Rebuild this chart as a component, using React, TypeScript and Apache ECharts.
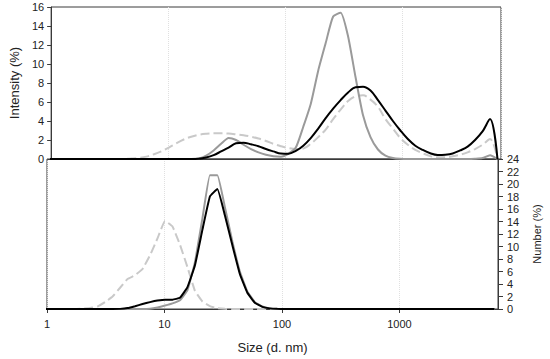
import React, { useEffect, useRef } from "react";
import * as echarts from "echarts";

// Size classes (d. nm)
const sizes = [0.9649, 1.117, 1.294, 1.499, 1.736, 2.01, 2.328, 2.696, 3.122, 3.615, 4.187, 4.849, 5.615, 6.503, 7.531, 8.721, 10.1, 11.7, 13.54, 15.69, 18.17, 21.04, 24.36, 28.21, 32.67, 37.84, 43.82, 50.75, 58.77, 68.06, 78.82, 91.28, 105.7, 122.4, 141.8, 164.2, 190.1, 220.2, 255.0, 295.3, 342.0, 396.1, 458.7, 531.2, 615.1, 712.4, 825.0, 955.4, 1106, 1281, 1484, 1718, 1990, 2305, 2669, 3091, 3580, 4145, 4801, 5560, 6439];

// Intensity (%)
const intensityBlack = [0, 0, 0, 0, 0, 0, 0, 0, 0, 0, 0, 0, 0, 0, 0, 0, 0, 0, 0, 0, 0.02, 0.15, 0.4, 0.8, 1.2, 1.65, 1.72, 1.55, 1.35, 1.05, 0.8, 0.57, 0.55, 0.85, 1.4, 2.2, 3.2, 4.3, 5.3, 6.2, 7.0, 7.55, 7.6, 7.2, 6.2, 5.1, 4.0, 3.0, 2.1, 1.4, 0.95, 0.6, 0.42, 0.45, 0.58, 0.9, 1.3, 2.0, 2.9, 4.2, 0];
const intensityGray = [0, 0, 0, 0, 0, 0, 0, 0, 0, 0, 0, 0, 0, 0, 0, 0, 0, 0, 0, 0, 0.05, 0.35, 0.9, 1.6, 2.2, 2.0, 1.5, 1.05, 0.7, 0.45, 0.3, 0.25, 0.55, 1.2, 3.4, 5.8, 9.3, 12.2, 15.0, 15.4, 12.9, 8.6, 4.6, 2.3, 1.0, 0.35, 0.1, 0.02, 0, 0, 0, 0, 0, 0, 0, 0, 0, 0.03, 0.1, 0.4, 0];
const intensityDashed = [0, 0, 0, 0, 0, 0, 0, 0, 0, 0, 0, 0.05, 0.12, 0.25, 0.5, 0.8, 1.2, 1.65, 2.05, 2.35, 2.55, 2.65, 2.7, 2.7, 2.68, 2.6, 2.5, 2.35, 2.15, 1.9, 1.6, 1.35, 1.15, 1.05, 1.1, 1.6, 2.3, 3.1, 4.2, 5.2, 6.1, 6.6, 6.7, 6.25, 5.5, 4.2, 3.2, 2.2, 1.5, 0.95, 0.6, 0.3, 0.18, 0.18, 0.28, 0.45, 0.7, 1.05, 1.5, 2.1, 0];

// Number (%)
const numberBlack = [0, 0, 0, 0, 0, 0, 0, 0, 0, 0, 0.02, 0.15, 0.45, 0.8, 1.1, 1.35, 1.5, 1.5, 1.8, 3.5, 7.0, 12.7, 18.0, 19.2, 15.0, 10.2, 5.6, 2.6, 1.0, 0.35, 0.1, 0.03, 0, 0, 0, 0, 0, 0, 0, 0, 0, 0, 0, 0, 0, 0, 0, 0, 0, 0, 0, 0, 0, 0, 0, 0, 0, 0, 0, 0, 0];
const numberGray = [0, 0, 0, 0, 0, 0, 0, 0, 0, 0, 0, 0, 0, 0, 0.05, 0.25, 0.55, 0.9, 1.4, 3.0, 7.5, 14.5, 21.4, 21.4, 16.3, 10.8, 6.0, 2.8, 1.1, 0.4, 0.1, 0, 0, 0, 0, 0, 0, 0, 0, 0, 0, 0, 0, 0, 0, 0, 0, 0, 0, 0, 0, 0, 0, 0, 0, 0, 0, 0, 0, 0, 0];
const numberDashed = [0, 0, 0, 0, 0, 0.05, 0.15, 0.4, 1.1, 2.0, 3.4, 4.8, 5.4, 6.4, 8.6, 11.3, 14.1, 13.2, 10.3, 6.7, 2.9, 1.2, 0.45, 0.12, 0.03, 0, 0, 0, 0, 0, 0, 0, 0, 0, 0, 0, 0, 0, 0, 0, 0, 0, 0, 0, 0, 0, 0, 0, 0, 0, 0, 0, 0, 0, 0, 0, 0, 0, 0, 0, 0];

const xTickLabels = ["1", "10", "100", "1000"];

const FONT = "'Liberation Sans', Arial, sans-serif";
const AXIS_COLOR = "#3a3a3a";

function pairs(vals: number[]) {
  return sizes.map((s, i) => [s, vals[i]]);
}

export default function App() {
  const ref = useRef<HTMLDivElement>(null);
  useEffect(() => {
    if (!ref.current) return;
    const chart = echarts.init(ref.current, null, { renderer: "svg" });
    const xBase = {
      type: "log" as const,
      logBase: 10,
      min: 1,
      max: 6900,
      axisLine: { show: true, onZero: false, lineStyle: { color: AXIS_COLOR, width: 1 } },
      splitLine: { show: true, lineStyle: { color: "#e0e0e0", type: "dotted" as const, width: 1 } },
    };
    const lineCommon = { type: "line" as const, showSymbol: false, symbol: "none", clip: true };
    const blackStyle = { color: "#000", width: 2 };
    const grayStyle = { color: "#9a9a9a", width: 2 };
    const dashStyle = { color: "#c9c9c9", width: 2, type: [9, 4] as any };
    chart.setOption({
      animation: false,
      textStyle: { fontFamily: FONT },
      grid: [
        { left: 47, right: 49, top: 7, height: 152, show: true, borderColor: AXIS_COLOR, borderWidth: 1, backgroundColor: "transparent" },
        { left: 47, right: 49, top: 159, height: 150, show: true, borderColor: AXIS_COLOR, borderWidth: 1, backgroundColor: "transparent" },
      ],
      xAxis: [
        { ...xBase, gridIndex: 0, axisTick: { show: false }, axisLabel: { show: false } },
        {
          ...xBase,
          gridIndex: 1,
          axisTick: { show: true, length: 4, lineStyle: { color: AXIS_COLOR } },
          axisLabel: {
            show: true,
            color: "#222",
            fontSize: 11,
            fontFamily: FONT,
            margin: 9,
            showMaxLabel: false,
            formatter: (v: number) => {
              const l = Math.round(Math.log10(v));
              const lbl = xTickLabels[l];
              return Math.abs(Math.log10(v) - l) < 1e-6 && lbl ? lbl : "";
            },
          },
          name: "Size (d. nm)",
          nameLocation: "middle",
          nameGap: 32,
          nameTextStyle: { fontSize: 13, color: "#222", fontFamily: FONT },
        },
      ],
      yAxis: [
        {
          type: "value",
          gridIndex: 0,
          min: 0,
          max: 16,
          interval: 2,
          axisLine: { show: true, lineStyle: { color: AXIS_COLOR } },
          axisTick: { show: true, length: 4, lineStyle: { color: AXIS_COLOR } },
          axisLabel: { color: "#222", fontSize: 11, fontFamily: FONT, margin: 7 },
          splitLine: { show: false },
          name: "Intensity (%)",
          nameLocation: "middle",
          nameRotate: 90,
          nameGap: 29,
          nameTextStyle: { fontSize: 13, color: "#222", fontFamily: FONT },
        },
        {
          type: "value",
          gridIndex: 1,
          position: "right",
          min: 0,
          max: 24,
          interval: 2,
          axisLine: { show: true, lineStyle: { color: AXIS_COLOR } },
          axisTick: { show: true, length: 5, lineStyle: { color: AXIS_COLOR } },
          axisLabel: { color: "#222", fontSize: 11, fontFamily: FONT, margin: 9 },
          splitLine: { show: false },
          name: "Number (%)",
          nameLocation: "middle",
          nameRotate: 90,
          nameGap: 33,
          nameTextStyle: { fontSize: 11, color: "#222", fontFamily: FONT },
        },
      ],
      series: [
        { ...lineCommon, xAxisIndex: 0, yAxisIndex: 0, smooth: 0.35, lineStyle: dashStyle, data: pairs(intensityDashed) },
        { ...lineCommon, xAxisIndex: 0, yAxisIndex: 0, smooth: 0.2, lineStyle: grayStyle, data: pairs(intensityGray) },
        { ...lineCommon, xAxisIndex: 0, yAxisIndex: 0, smooth: 0.35, lineStyle: blackStyle, data: pairs(intensityBlack) },
        { ...lineCommon, xAxisIndex: 1, yAxisIndex: 1, smooth: 0.1, lineStyle: dashStyle, data: pairs(numberDashed) },
        { ...lineCommon, xAxisIndex: 1, yAxisIndex: 1, smooth: 0.1, lineStyle: grayStyle, data: pairs(numberGray) },
        { ...lineCommon, xAxisIndex: 1, yAxisIndex: 1, smooth: 0.1, lineStyle: blackStyle, data: pairs(numberBlack) },
      ],
    });
    return () => chart.dispose();
  }, []);
  return (
    <div
      ref={ref}
      style={{ position: "fixed", left: 0, top: 0, width: 550, height: 359, background: "#fff" }}
    />
  );
}
